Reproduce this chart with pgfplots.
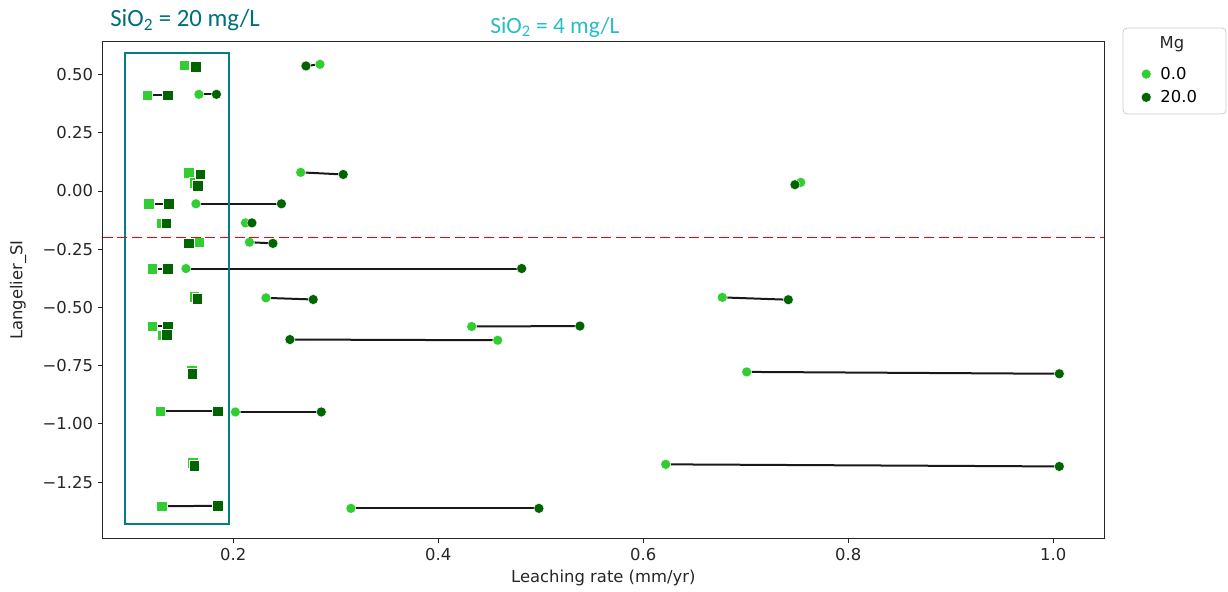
\documentclass[border=0pt]{standalone}
\usepackage{pgfplots}
\pgfplotsset{compat=1.18}
\usepackage{pgfplotstable}
\usepackage{fontspec}
\setmainfont{DejaVu Sans}
\newfontfamily\calibri{Carlito}
\definecolor{lgreen}{RGB}{50,205,50}
\definecolor{dgreen}{RGB}{0,100,0}
\definecolor{boxteal}{RGB}{0,128,128}
\definecolor{tealA}{RGB}{0,112,120}
\definecolor{tealB}{RGB}{38,190,196}
\definecolor{linegray}{RGB}{25,25,25}
\definecolor{refred}{RGB}{255,0,0}

% SiO2 = 20 mg/L (squares): Mg=0 (x0,y0) and Mg=20 (x20,y20)
\pgfplotstableread{
x0 y0 x20 y20
0.1522 0.5395 0.1633 0.5335
0.1161 0.412 0.136 0.412
0.1565 0.078 0.1675 0.073
0.1617 0.035 0.1653 0.022
0.1175 -0.055 0.137 -0.055
0.1295 -0.138 0.1346 -0.138
0.1665 -0.221 0.1565 -0.224
0.1207 -0.333 0.136 -0.333
0.1621 -0.454 0.1651 -0.462
0.1207 -0.580 0.136 -0.580
0.1311 -0.620 0.135 -0.618
0.1594 -0.772 0.160 -0.784
0.1288 -0.946 0.1848 -0.946
0.1604 -1.167 0.162 -1.179
0.1301 -1.354 0.1848 -1.352
}\sqdata

% SiO2 = 4 mg/L (circles)
\pgfplotstableread{
x0 y0 x20 y20
0.2846 0.544 0.2709 0.537
0.1665 0.415 0.1836 0.415
0.2658 0.080 0.3073 0.071
0.7536 0.037 0.748 0.027
0.1636 -0.055 0.247 -0.055
0.2119 -0.137 0.2182 -0.137
0.2158 -0.220 0.2387 -0.225
0.1539 -0.333 0.4814 -0.333
0.2319 -0.459 0.278 -0.466
0.6771 -0.457 0.7415 -0.467
0.4326 -0.582 0.5382 -0.580
0.458 -0.641 0.2553 -0.638
0.7009 -0.777 1.0059 -0.785
0.2021 -0.949 0.2859 -0.949
0.6219 -1.174 1.0059 -1.183
0.3148 -1.363 0.4982 -1.363
}\cidata

\begin{document}
\begin{tikzpicture}
\begin{axis}[
  scale only axis, width=751pt, height=372.5pt,
  xmin=0.0726, xmax=1.0495, ymin=-1.492, ymax=0.641,
  xtick pos=bottom, ytick pos=left,
  xtick={0.2,0.4,0.6,0.8,1.0}, xticklabels={0.2,0.4,0.6,0.8,1.0},
  ytick={-1.25,-1,-0.75,-0.5,-0.25,0,0.25,0.5},
  yticklabels={−1.25,−1.00,−0.75,−0.50,−0.25,0.00,0.25,0.50},
  tick align=outside, major tick length=3.75pt,
  tick style={black!85, line width=0.6pt},
  axis line style={black!85, line width=0.6pt},
  tick label style={font=\fontsize{12.3}{14}\selectfont, text=black!85},
  xlabel={Leaching rate (mm/yr)}, ylabel={Langelier\_SI},
  label style={font=\fontsize{12.3}{14}\selectfont, text=black!85},
  xlabel style={at={(axis description cs:0.5,-0.0799)}, anchor=center},
  ylabel style={at={(axis description cs:-0.0846,0.5)}, anchor=center},
  clip=false,
  legend cell align=left,
  legend style={at={(axis description cs:1.0369,0.955)}, anchor=north west,
    draw=none, fill=none, font=\fontsize{12.3}{14}\selectfont,
    inner sep=0pt, row sep=2.8pt,
    /tikz/every odd column/.append style={column sep=4.9pt}},
]
\draw[black!20, rounded corners=3pt, line width=0.6pt] (axis description cs:1.0190,1.0276) rectangle (axis description cs:1.1219,0.8544);
\node[font=\fontsize{12.3}{14}\selectfont, text=black!85] at (axis description cs:1.0679,0.9954) {Mg};
\addlegendimage{only marks, mark=*, mark size=3.75pt, mark options={fill=lgreen, draw=white, line width=0.3pt}}\addlegendentry{0.0}
\addlegendimage{only marks, mark=*, mark size=3.75pt, mark options={fill=dgreen, draw=white, line width=0.3pt}}\addlegendentry{20.0}

\coordinate (refL) at (axis cs:0.0726,-0.2);
\coordinate (refR) at (axis cs:1.0495,-0.2);

\addplot[linegray, line width=1.5pt, no markers, forget plot,
  quiver={u=\thisrow{x20}-\thisrow{x0}, v=\thisrow{y20}-\thisrow{y0}}] table[x=x0, y=y0] {\sqdata};
\addplot[linegray, line width=1.5pt, no markers, forget plot,
  quiver={u=\thisrow{x20}-\thisrow{x0}, v=\thisrow{y20}-\thisrow{y0}}] table[x=x0, y=y0] {\cidata};

\addplot[only marks, mark=square*, mark size=3.9pt, mark options={fill=lgreen, draw=white, line width=0.3pt}, forget plot] table[x=x0, y=y0] {\sqdata};
\addplot[only marks, mark=square*, mark size=3.9pt, mark options={fill=dgreen, draw=white, line width=0.3pt}, forget plot] table[x=x20, y=y20] {\sqdata};
\addplot[only marks, mark=*, mark size=3.75pt, mark options={fill=lgreen, draw=white, line width=0.3pt}, forget plot] table[x=x0, y=y0] {\cidata};
\addplot[only marks, mark=*, mark size=3.75pt, mark options={fill=dgreen, draw=white, line width=0.3pt}, forget plot] table[x=x20, y=y20] {\cidata};

\draw[boxteal, line width=1.5pt] (axis cs:0.0943,0.591) rectangle (axis cs:0.1958,-1.431);

\node[text=tealA, font=\calibri\fontsize{18.6}{21}\selectfont] at (axis cs:0.153,0.734) {SiO\textsubscript{2} = 20 mg/L};
\node[text=tealB, font=\calibri\fontsize{17.5}{20}\selectfont] at (axis cs:0.5138,0.704) {SiO\textsubscript{2} = 4 mg/L};
\end{axis}
% dashed reference line at Langelier_SI = -0.2, drawn as filled dashes
\foreach \i in {0,...,67} {
  \fill[refred] ([xshift=\i*11pt, yshift=-0.7pt]refL) rectangle ([xshift=\i*11pt+7.5pt, yshift=0.7pt]refL);
}
\fill[refred] ([xshift=748pt, yshift=-0.7pt]refL) rectangle ([yshift=0.7pt]refR);
\pgfresetboundingbox
\path ([shift={(-77pt,-39.5pt)}]current axis.south west) rectangle ([shift={(93pt,31.3pt)}]current axis.north east);
\end{tikzpicture}
\end{document}
